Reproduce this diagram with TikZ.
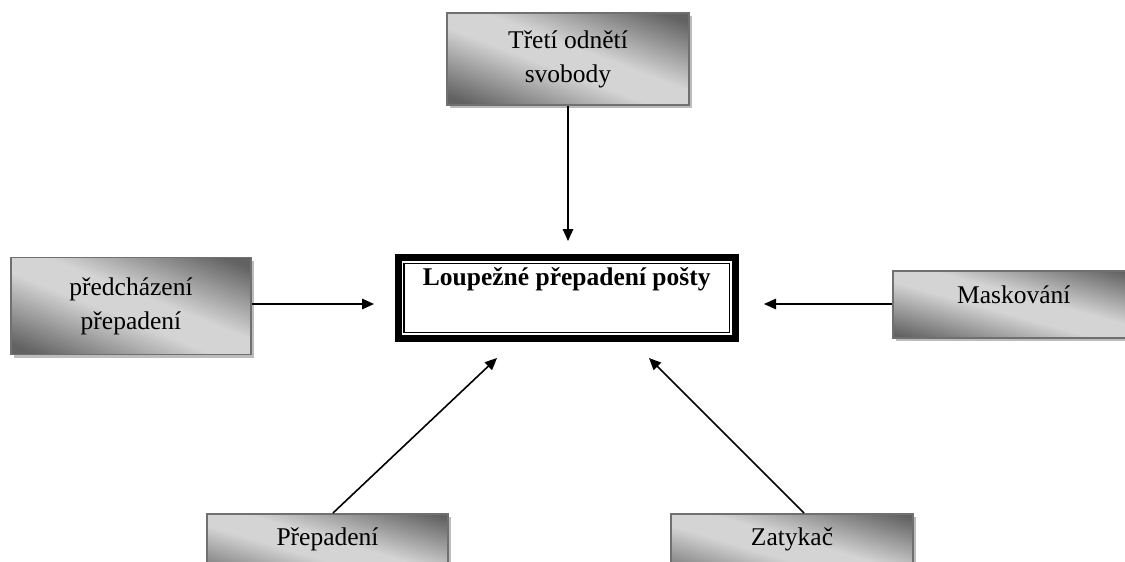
\documentclass[tikz,border=0pt]{standalone}
\usepackage{fontspec}
\setmainfont{Liberation Serif}
\usetikzlibrary{arrows.meta,shadows}
\definecolor{dk}{RGB}{98,98,98}
\definecolor{lt}{RGB}{212,212,212}
\definecolor{bd}{RGB}{112,112,112}
\definecolor{sh}{RGB}{188,188,188}
\pgfdeclareverticalshading{gshade}{100bp}{color(0bp)=(dk); color(21bp)=(dk); color(45bp)=(lt); color(55bp)=(lt); color(79bp)=(dk); color(100bp)=(dk)}
\tikzset{
  gbox/.style={draw=bd, line width=1.5pt, shading=gshade, shading angle=#1,
    align=center, inner xsep=4pt,
    font=\fontsize{25.5}{34}\selectfont,
    drop shadow={shadow xshift=3pt, shadow yshift=-3pt, fill=sh, opacity=1}},
  mainbox/.style={draw=black, line width=7pt, outer sep=0pt, fill=white,
    font=\fontsize{25.5}{34}\selectfont\bfseries},
  arr/.style={line width=1.6pt, -{Triangle[length=12pt,width=10.5pt]}}
}
\begin{document}
\begin{tikzpicture}[x=1pt,y=-1pt]
\useasboundingbox (0,0) rectangle (1125,562);
% central box
\node[mainbox, minimum width=337.5pt, minimum height=81pt, inner ysep=5pt,
  text height=22.5pt, text depth=48.5pt] (c) at (566.75,298) {Loupežné přepadení pošty};
\draw[line width=1.2pt] ([shift={(6,6)}]c.north west) rectangle ([shift={(-6,-6)}]c.south east);
% surrounding boxes
\node[gbox=-20.8, minimum width=242pt, minimum height=92pt] (t) at (568,59) {Třetí odnětí\\svobody};
\node[gbox=-22, minimum width=240pt, minimum height=97pt] (l) at (131,306) {předcházení\\přepadení};
\node[gbox=-15.5, anchor=north west, minimum width=242pt, inner ysep=8pt, text height=25pt, text depth=26pt] (r) at (892,270) {Maskování};
\node[gbox=-16.6, anchor=north, minimum width=241pt, inner ysep=10pt, text height=22pt, text depth=30pt] (bl) at (327.5,513) {Přepadení};
\node[gbox=-16.6, anchor=north, minimum width=242pt, inner ysep=10pt, text height=22pt, text depth=30pt] (br) at (792,513) {Zatykač};
% arrow targets
\coordinate (ta) at (568,241);
\coordinate (la) at (374,304);
\coordinate (ra) at (764,304);
\coordinate (bla) at (497,358);
\coordinate (bra) at (649,358);
% connectors
\draw[arr] (t.south) -- (ta);
\draw[arr] (l.east |- la) -- (la);
\draw[arr] (r.west |- ra) -- (ra);
\draw[arr] ([xshift=5.5pt]bl.north) -- (bla);
\draw[arr] ([xshift=12pt]br.north) -- (bra);
\end{tikzpicture}
\end{document}
